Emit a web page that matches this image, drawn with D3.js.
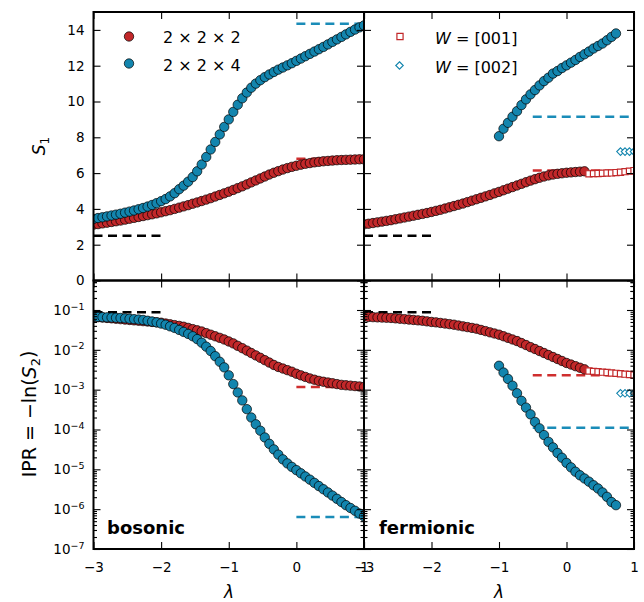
<!DOCTYPE html>
<html><head><meta charset="utf-8">
<script src="https://cdn.jsdelivr.net/npm/d3@7"></script>
<style>body{margin:0;background:#fff}svg text{font-family:"DejaVu Sans",sans-serif}</style>
</head><body><svg id="c" width="644" height="602"></svg>
<script>
// ---------------- data ----------------
const lambda = [-3.000,-2.933,-2.867,-2.800,-2.733,-2.667,-2.600,-2.533,-2.467,-2.400,-2.333,-2.267,-2.200,-2.133,-2.067,-2.000,-1.933,-1.867,-1.800,-1.733,-1.667,-1.600,-1.533,-1.467,-1.400,-1.333,-1.267,-1.200,-1.133,-1.067,-1.000,-0.933,-0.867,-0.800,-0.733,-0.667,-0.600,-0.533,-0.467,-0.400,-0.333,-0.267,-0.200,-0.133,-0.067,0.000,0.067,0.133,0.200,0.267,0.333,0.400,0.467,0.533,0.600,0.667,0.733,0.800,0.867,0.933,1.000];
const xTicks = [-3,-2,-1,0,1];
const s1Ticks = [0,2,4,6,8,10,12,14];
const iprTicks = [1e-7,1e-6,1e-5,1e-4,1e-3,1e-2,1e-1];
const legendBos = ["2 × 2 × 2","2 × 2 × 4"];
const legendFer = ["[001]","[002]"];

// bosonic S1
const s1Bos222 = [3.12,3.15,3.19,3.23,3.27,3.31,3.35,3.40,3.45,3.50,3.55,3.60,3.65,3.70,3.75,3.81,3.87,3.93,4.00,4.07,4.14,4.21,4.29,4.36,4.44,4.52,4.60,4.69,4.78,4.87,4.96,5.06,5.16,5.26,5.37,5.48,5.59,5.70,5.81,5.92,6.02,6.11,6.20,6.28,6.35,6.41,6.47,6.52,6.56,6.60,6.63,6.66,6.68,6.70,6.72,6.73,6.74,6.75,6.76,6.77,6.77];
const s1Bos224 = [3.44,3.49,3.53,3.58,3.63,3.68,3.73,3.79,3.85,3.91,3.98,4.05,4.13,4.22,4.32,4.43,4.55,4.70,4.88,5.10,5.30,5.52,5.78,6.10,6.48,6.90,7.32,7.74,8.16,8.58,9.00,9.42,9.82,10.18,10.50,10.77,11.00,11.19,11.36,11.51,11.65,11.78,11.90,12.02,12.14,12.27,12.40,12.53,12.66,12.79,12.92,13.05,13.19,13.33,13.47,13.61,13.75,13.89,14.02,14.14,14.25];
// fermionic S1
const s1Fer222 = [3.14,3.17,3.21,3.25,3.29,3.33,3.37,3.42,3.47,3.52,3.57,3.62,3.67,3.72,3.77,3.83,3.89,3.95,4.02,4.09,4.16,4.23,4.30,4.38,4.46,4.54,4.62,4.70,4.78,4.87,4.95,5.04,5.13,5.22,5.31,5.40,5.49,5.58,5.66,5.74,5.81,5.87,5.92,5.96,5.99,6.02,6.04,6.06,6.08,6.10];
const s1FerW001 = [5.96,5.97,5.98,5.99,6.00,6.01,6.03,6.05,6.08,6.11,6.14];
const s1Fer224 = [8.06,8.48,8.81,9.15,9.46,9.80,10.12,10.40,10.64,10.90,11.14,11.33,11.56,11.70,11.87,12.02,12.17,12.32,12.49,12.64,12.79,12.96,13.10,13.24,13.42,13.61,13.80];
const s1FerW002 = [7.2,7.2,7.2,7.2];
// bosonic IPR
const iprBos222 = [6.76e-2,6.61e-2,6.46e-2,6.31e-2,6.17e-2,6.03e-2,5.89e-2,5.75e-2,5.62e-2,5.50e-2,5.37e-2,5.25e-2,5.13e-2,5.01e-2,4.90e-2,4.79e-2,4.57e-2,4.37e-2,4.17e-2,3.98e-2,3.80e-2,3.55e-2,3.31e-2,3.09e-2,2.88e-2,2.63e-2,2.40e-2,2.19e-2,2.00e-2,1.82e-2,1.62e-2,1.45e-2,1.26e-2,1.10e-2,9.55e-3,8.32e-3,7.24e-3,6.31e-3,5.50e-3,4.79e-3,4.17e-3,3.72e-3,3.39e-3,3.09e-3,2.82e-3,2.51e-3,2.29e-3,2.09e-3,1.91e-3,1.78e-3,1.66e-3,1.58e-3,1.51e-3,1.45e-3,1.38e-3,1.32e-3,1.29e-3,1.26e-3,1.23e-3,1.20e-3,1.17e-3];
const iprBos224 = [6.76e-2,6.68e-2,6.61e-2,6.53e-2,6.46e-2,6.38e-2,6.31e-2,6.17e-2,6.03e-2,5.89e-2,5.75e-2,5.62e-2,5.37e-2,5.13e-2,4.90e-2,4.57e-2,4.27e-2,3.89e-2,3.55e-2,3.16e-2,2.82e-2,2.51e-2,2.19e-2,1.86e-2,1.51e-2,1.20e-2,9.33e-3,6.92e-3,5.01e-3,3.63e-3,2.29e-3,1.38e-3,8.51e-4,5.37e-4,3.24e-4,2.00e-4,1.35e-4,9.33e-5,6.31e-5,4.37e-5,3.16e-5,2.34e-5,1.78e-5,1.41e-5,1.15e-5,9.55e-6,7.94e-6,6.61e-6,5.50e-6,4.57e-6,3.80e-6,3.16e-6,2.63e-6,2.19e-6,1.82e-6,1.51e-6,1.26e-6,1.07e-6,9.12e-7,7.76e-7,6.61e-7];
// fermionic IPR
const iprFer222 = [6.76e-2,6.68e-2,6.61e-2,6.53e-2,6.46e-2,6.38e-2,6.31e-2,6.17e-2,6.03e-2,5.89e-2,5.75e-2,5.62e-2,5.50e-2,5.37e-2,5.19e-2,5.01e-2,4.90e-2,4.73e-2,4.57e-2,4.42e-2,4.27e-2,4.07e-2,3.89e-2,3.72e-2,3.55e-2,3.39e-2,3.16e-2,2.95e-2,2.75e-2,2.57e-2,2.40e-2,2.19e-2,2.00e-2,1.82e-2,1.66e-2,1.48e-2,1.32e-2,1.17e-2,1.05e-2,9.33e-3,8.32e-3,7.41e-3,6.61e-3,5.89e-3,5.25e-3,4.68e-3,4.27e-3,3.89e-3,3.55e-3,3.24e-3];
const iprFerW001 = [2.95e-3,2.88e-3,2.82e-3,2.75e-3,2.69e-3,2.63e-3,2.57e-3,2.51e-3,2.45e-3,2.40e-3,2.34e-3];
const iprFer224 = [3.98e-3,2.69e-3,1.86e-3,1.26e-3,8.13e-4,5.25e-4,3.55e-4,2.40e-4,1.55e-4,1.07e-4,7.24e-5,4.90e-5,3.55e-5,2.57e-5,1.95e-5,1.45e-5,1.12e-5,8.71e-6,7.08e-6,5.89e-6,4.90e-6,3.98e-6,3.31e-6,2.63e-6,2.04e-6,1.51e-6,1.26e-6];
const iprFerW002 = [8.1e-4,8.1e-4,8.1e-4,8.1e-4];

// reference (dashed) levels: [lambda start, lambda end, value]; order: reference, 2x2x2, 2x2x4
const dashBosS1 = [[-3,-2,2.5],[0,1,6.8],[0,1,14.35]];
const dashFerS1 = [[-3,-2,2.5],[-0.5,1,6.15],[-0.5,1,9.15]];
const dashBosIPR = [[-3,-2,0.088],[0,1,1.17e-3],[0,1,6.4e-7]];
const dashFerIPR = [[-3,-2,0.088],[-0.5,1,2.3e-3],[-0.5,1,1.1e-4]];

// ---------------- layout ----------------
const L=93.5, M=364, R=634, T=12, MID=280.5, B=549;
const RED='#c2282a', BLUE='#1385ae', REDD='#cf2e2e', BLUED='#1a8cb8';
const dashColors=['#000', REDD, BLUED];
const svg=d3.select('#c');
const defs=svg.append('defs');

const xL=d3.scaleLinear().domain([-3,1]).range([L,M]);
const xR=d3.scaleLinear().domain([-3,1]).range([M,R]);
const yS=d3.scaleLinear().domain([0,15]).range([MID,T]);
const yI=d3.scaleLog().domain([1e-7,0.55]).range([B,MID]);

const fmtX=d=> d<0? '\u2212'+Math.abs(d): String(d);

function circles(g,x,y,xs,ys,color){
  g.selectAll(null).data(ys).enter().append('circle')
   .attr('cx',(d,i)=>x(xs[i])).attr('cy',d=>y(d)).attr('r',4.7)
   .attr('fill',color).attr('stroke','#000').attr('stroke-width',0.7);
}
function squares(g,x,y,xs,ys,color){
  const s=d3.symbol().type(d3.symbolSquare).size(38);
  g.selectAll(null).data(ys).enter().append('path').attr('d',s)
   .attr('transform',(d,i)=>`translate(${x(xs[i])},${y(d)})`)
   .attr('fill','#fff').attr('stroke',color).attr('stroke-width',1.2);
}
function diamonds(g,x,y,xs,ys,color){
  const s=d3.symbol().type(d3.symbolDiamond2).size(36);
  g.selectAll(null).data(ys).enter().append('path').attr('d',s)
   .attr('transform',(d,i)=>`translate(${x(xs[i])},${y(d)})`)
   .attr('fill','#fff').attr('stroke',color).attr('stroke-width',1.1);
}
function dashes(g,x,y,list){
  list.forEach((d,i)=>{
    g.append('line').attr('x1',x(d[0])).attr('x2',x(d[1])).attr('y1',y(d[2])).attr('y2',y(d[2]))
     .attr('stroke',dashColors[i]).attr('stroke-width',2.5).attr('stroke-dasharray','9,5.5');
  });
}

function styleAxis(a){ a.select('.domain').remove(); a.selectAll('line').attr('stroke','#000').attr('stroke-width',1.1);
  a.selectAll('text').attr('font-size',13.5).attr('fill','#000').attr('font-family','"DejaVu Sans",sans-serif'); }

function logLabels(a){
  a.selectAll('text').each(function(d){
    const t=d3.select(this); const e=Math.round(Math.log10(d));
    t.text(null);
    t.append('tspan').text('10');
    t.append('tspan').attr('dy','-0.55em').attr('font-size','9.5px').text('\u2212'+Math.abs(e));
  });
}

function panel(id,x,y,isLog,px0,px1,py0,py1,showY,showX,draw){
  defs.append('clipPath').attr('id','clip'+id).append('rect')
    .attr('x',px0).attr('y',py0).attr('width',px1-px0).attr('height',py1-py0);
  const g=svg.append('g').attr('clip-path',`url(#clip${id})`);
  draw(g);
  const yt = isLog? iprTicks : s1Ticks;
  let a=svg.append('g').attr('transform',`translate(0,${py1})`)
    .call(d3.axisBottom(x).tickValues(xTicks).tickSize(-7).tickPadding(13).tickFormat(showX?fmtX:''));
  styleAxis(a);
  a=svg.append('g').attr('transform',`translate(0,${py0})`)
    .call(d3.axisTop(x).tickValues(xTicks).tickSize(-7).tickFormat(''));
  styleAxis(a);
  a=svg.append('g').attr('transform',`translate(${px0},0)`)
    .call(d3.axisLeft(y).tickValues(yt).tickSize(-7).tickPadding(9).tickFormat(showY?(d=>String(d)):''));
  styleAxis(a);
  if(isLog && showY) logLabels(a);
  a=svg.append('g').attr('transform',`translate(${px1},0)`)
    .call(d3.axisRight(y).tickValues(yt).tickSize(-7).tickFormat(''));
  styleAxis(a);
  if(isLog){
    const minors=[];
    for(let e=-7;e<=-1;e++) for(let m=2;m<=9;m++) minors.push(m*Math.pow(10,e));
    for(let m=2;m<=5;m++) minors.push(m*0.1);
    const mv=minors.filter(v=>v<=y.domain()[1]);
    a=svg.append('g').attr('transform',`translate(${px0},0)`).call(d3.axisLeft(y).tickValues(mv).tickSize(-3.5).tickFormat(''));
    styleAxis(a);
    a=svg.append('g').attr('transform',`translate(${px1},0)`).call(d3.axisRight(y).tickValues(mv).tickSize(-3.5).tickFormat(''));
    styleAxis(a);
  }
  svg.append('rect').attr('x',px0).attr('y',py0).attr('width',px1-px0).attr('height',py1-py0)
    .attr('fill','none').attr('stroke','#000').attr('stroke-width',2);
}

panel('tl',xL,yS,false,L,M,T,MID,true,false,g=>{
  dashes(g,xL,yS,dashBosS1);
  circles(g,xL,yS,lambda,s1Bos222,RED);
  circles(g,xL,yS,lambda,s1Bos224,BLUE);
});
panel('tr',xR,yS,false,M,R,T,MID,false,false,g=>{
  dashes(g,xR,yS,dashFerS1);
  circles(g,xR,yS,lambda.slice(0,50),s1Fer222,RED);
  squares(g,xR,yS,lambda.slice(50,61),s1FerW001,RED);
  circles(g,xR,yS,lambda.slice(30,57),s1Fer224,BLUE);
  diamonds(g,xR,yS,lambda.slice(57,61),s1FerW002,BLUE);
});
panel('bl',xL,yI,true,L,M,MID,B,true,true,g=>{
  dashes(g,xL,yI,dashBosIPR);
  circles(g,xL,yI,lambda,iprBos222,RED);
  circles(g,xL,yI,lambda,iprBos224,BLUE);
});
panel('br',xR,yI,true,M,R,MID,B,false,true,g=>{
  dashes(g,xR,yI,dashFerIPR);
  circles(g,xR,yI,lambda.slice(0,50),iprFer222,RED);
  squares(g,xR,yI,lambda.slice(50,61),iprFerW001,RED);
  circles(g,xR,yI,lambda.slice(30,57),iprFer224,BLUE);
  diamonds(g,xR,yI,lambda.slice(57,61),iprFerW002,BLUE);
});

// legends
const lg=svg.append('g');
[RED,BLUE].forEach((c,i)=>{
  lg.append('circle').attr('cx',129).attr('cy',36.5+i*27).attr('r',4.7).attr('fill',c).attr('stroke','#000').attr('stroke-width',0.7);
  lg.append('text').attr('x',163).attr('y',42.5+i*28).attr('font-size',16).attr('font-family','"Liberation Sans",Arial,sans-serif').text(legendBos[i]);
});
lg.append('path').attr('d',d3.symbol().type(d3.symbolSquare).size(38)).attr('transform','translate(400,36.5)').attr('fill','#fff').attr('stroke',RED).attr('stroke-width',1.2);
lg.append('path').attr('d',d3.symbol().type(d3.symbolDiamond2).size(36)).attr('transform','translate(399.5,65.5)').attr('fill','#fff').attr('stroke',BLUE).attr('stroke-width',1.1);
legendFer.forEach((s,i)=>{
  const t=lg.append('text').attr('x',435).attr('y',44+i*28.5).attr('font-size',16).attr('font-family','"Liberation Sans",Arial,sans-serif');
  t.append('tspan').attr('font-style','italic').text('W');
  t.append('tspan').text(' = '+s);
});

// panel labels
svg.append('text').attr('x',107).attr('y',534).attr('font-size',18).attr('font-weight','bold').text('bosonic');
svg.append('text').attr('x',379).attr('y',534).attr('font-size',18).attr('font-weight','bold').text('fermionic');

// axis labels
[229,499].forEach(cx=>{
  svg.append('text').attr('x',cx).attr('y',598).attr('text-anchor','middle').attr('font-size',17).attr('font-style','italic').text('λ');
});
const yl1=svg.append('text').attr('transform','translate(45,146) rotate(-90)').attr('text-anchor','middle').attr('font-size',17);
yl1.append('tspan').attr('font-style','italic').text('S');
yl1.append('tspan').attr('font-size',12).attr('dy','0.3em').text('1');
const yl2=svg.append('text').attr('transform','translate(36,414) rotate(-90)').attr('text-anchor','middle').attr('font-size',19);
yl2.append('tspan').text('IPR = \u2212ln(');
yl2.append('tspan').attr('font-style','italic').text('S');
yl2.append('tspan').attr('font-size',13).attr('dy','0.3em').text('2');
yl2.append('tspan').attr('dy','-0.25em').text(')');
</script></body></html>
